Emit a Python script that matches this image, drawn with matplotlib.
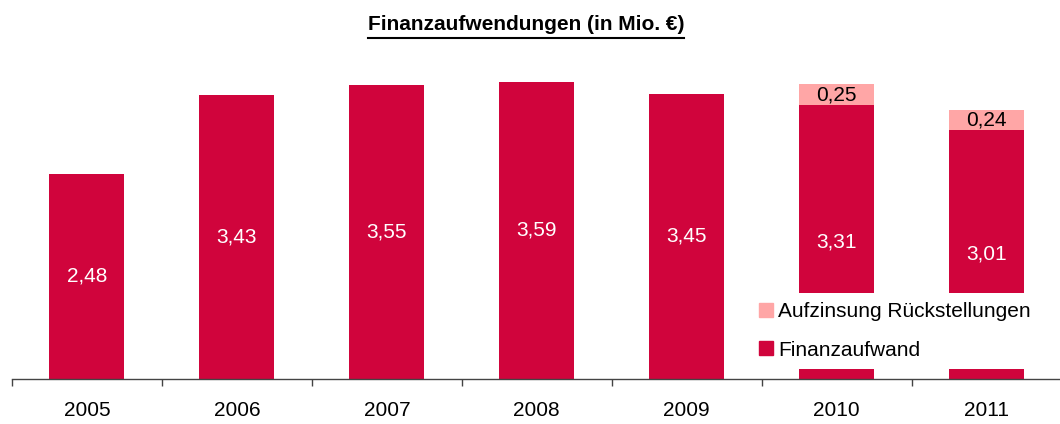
import matplotlib
matplotlib.use("Agg")
import matplotlib.pyplot as plt
from matplotlib.lines import Line2D
import numpy as np

years = ["2005", "2006", "2007", "2008", "2009", "2010", "2011"]
finanzaufwand = [2.48, 3.43, 3.55, 3.59, 3.45, 3.31, 3.01]
aufzinsung = [0, 0, 0, 0, 0, 0.25, 0.24]
title = "Finanzaufwendungen (in Mio. €)"
legend_labels = ["Aufzinsung Rückstellungen", "Finanzaufwand"]

RED = "#D0043C"
PINK = "#FFA6A6"

plt.rcParams['font.family'] = ['Liberation Sans', 'DejaVu Sans']

W, H = 1060, 424
fig = plt.figure(figsize=(W/100, H/100), dpi=100)
base_px = 379
top_px = 48
ax = fig.add_axes([12/W, 1 - base_px/H, 1048/W, (base_px - top_px)/H])

x = np.arange(len(years))
ax.bar(x, finanzaufwand, width=0.5, color=RED, zorder=2)
ax.bar(x, aufzinsung, width=0.5, bottom=finanzaufwand, color=PINK, zorder=2)

FS = 15
for xi, v, a in zip(x, finanzaufwand, aufzinsung):
    ax.text(xi, v/2, f"{v:.2f}".replace(".", ","), ha="center", va="center",
            color="white", fontsize=FS, zorder=3)
    if a > 0:
        ax.text(xi, v + a/2, f"{a:.2f}".replace(".", ","), ha="center", va="center",
                color="black", fontsize=FS, zorder=3)

ax.set_xlim(-0.5, 6.49)
ax.set_ylim(0, 4.0)
for s in ["top", "right", "left"]:
    ax.spines[s].set_visible(False)
ax.spines["bottom"].set_color("#444444")
ax.spines["bottom"].set_linewidth(1.0)
ax.set_yticks([])
ax.set_xticks(x)
ax.set_xticklabels(years, fontsize=FS)
ax.tick_params(axis="x", which="major", length=0, pad=16)
ax.set_xticks(np.arange(-0.5, 6.5, 1.0), minor=True)
ax.tick_params(axis="x", which="minor", length=5, width=1, color="#444444", direction="out")

handles = [Line2D([], [], marker="s", linestyle="none", markersize=10, color=PINK),
           Line2D([], [], marker="s", linestyle="none", markersize=10, color=RED)]
leg = ax.legend(handles, legend_labels, loc="upper left",
                bbox_to_anchor=(749/W, 1 - 293/H), bbox_transform=fig.transFigure,
                frameon=True, fancybox=False, facecolor="white", edgecolor="none",
                framealpha=1, fontsize=FS, handlelength=0.7, handletextpad=0.25,
                labelspacing=0.92, borderpad=0.45, borderaxespad=0)
leg.set_zorder(5)

t = fig.text(0.496, 1 - 25/H, title, ha="center", va="center", fontsize=15,
             fontweight="bold")
fig.canvas.draw()
bb = t.get_window_extent()
y_line = 1 - 37.5/H
fig.add_artist(Line2D([bb.x0/W, bb.x1/W], [y_line, y_line], color="black",
                      linewidth=1.5, transform=fig.transFigure))

fig.savefig("out.png", dpi=100)
